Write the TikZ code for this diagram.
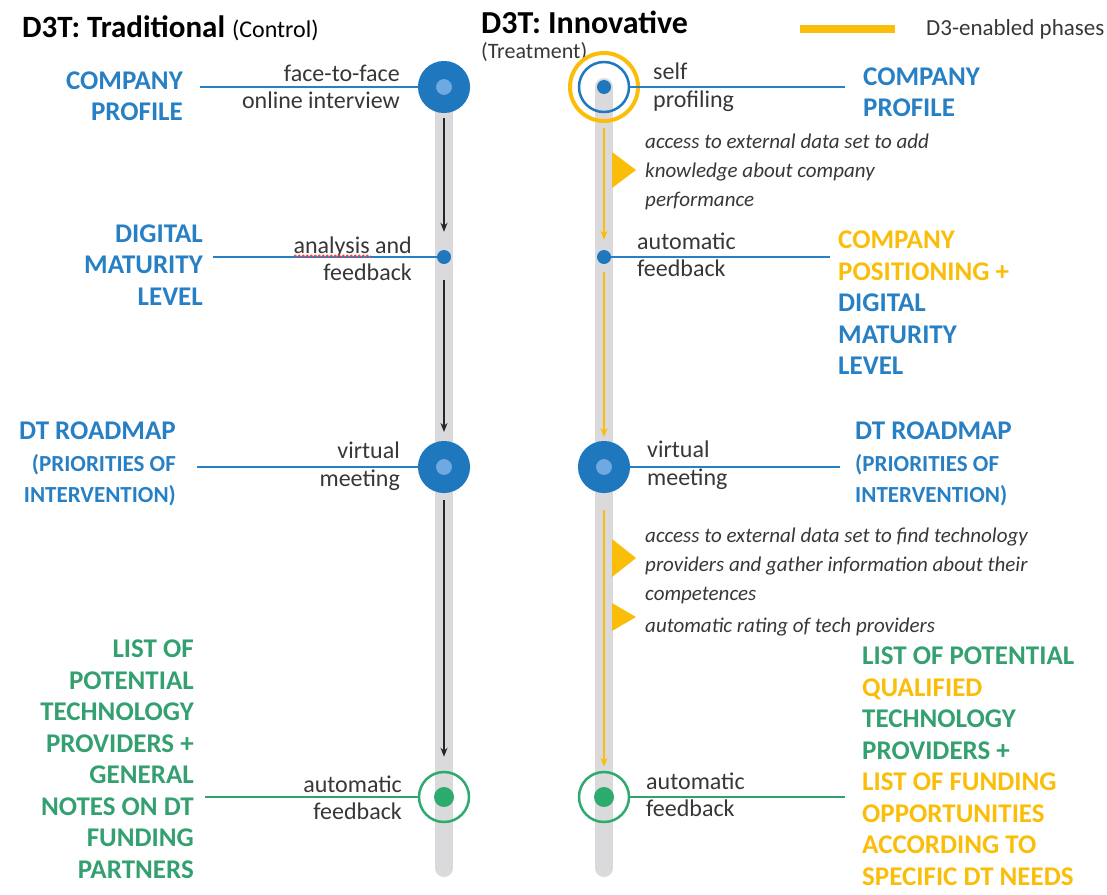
\documentclass[tikz,border=0pt]{standalone}
\usepackage{fontspec}
\setmainfont{Carlito}
\usetikzlibrary{arrows.meta,decorations.pathmorphing}
\definecolor{dblue}{RGB}{31,119,190}
\definecolor{lblue}{RGB}{110,170,225}
\definecolor{tblue}{RGB}{40,128,196}
\definecolor{dorange}{RGB}{250,190,10}
\definecolor{dgreen}{RGB}{45,170,110}
\definecolor{tgreen}{RGB}{52,160,112}
\definecolor{txt}{RGB}{55,55,55}
\definecolor{trk}{RGB}{218,218,220}
\newcommand{\priofont}{\fontsize{23}{30}\selectfont}
\begin{document}
\begin{tikzpicture}[x=1pt,y=-1pt,
  track/.style={trk,line width=18pt,line cap=round},
  bigdot/.style={circle,draw=dblue,fill=lblue,line width=18pt,minimum size=34pt,inner sep=0pt},
  smalldot/.style={circle,fill=dblue,minimum size=14pt,inner sep=0pt},
  ringdot/.style={circle,draw=#1,line width=2.5pt,minimum size=50pt,inner sep=0pt},
  lab/.style={font=\bfseries\fontsize{27}{31.5}\selectfont,inner sep=0pt},
  note/.style={font=\fontsize{24}{27.5}\selectfont,text=txt,inner sep=0pt},
  ital/.style={font=\itshape\fontsize{21}{29}\selectfont,text=txt,inner sep=0pt,align=left,anchor=west},
  bline/.style={tblue,line width=2pt},
  gline/.style={tgreen,line width=2pt},
  flow/.style={black!85,line width=2pt,-{Stealth[length=9pt,width=7pt]}},
  oflow/.style={dorange,line width=2.5pt,-{Stealth[length=9pt,width=7pt]}}]
\useasboundingbox (0,0) rectangle (1107,894);

\node[anchor=west,inner sep=0pt] (ttl) at (22,28) {\fontsize{31}{36}\selectfont\bfseries D3T: Traditional {\mdseries\fontsize{24}{28}\selectfont (Control)}};
\node[anchor=west,inner sep=0pt,font=\bfseries\fontsize{32}{36}\selectfont] (tti) at (481,22) {D3T: Innovative};
\node[anchor=west,inner sep=0pt,font=\fontsize{22}{26}\selectfont,text=txt] (ttr) at (481,52) {(Treatment)};
\coordinate (lg1) at (800,29);
\coordinate (lg2) at (895,29);
\draw[dorange,line width=8pt] (lg1) -- (lg2);
\node[note,anchor=west,font=\fontsize{23}{27}\selectfont] (lgt) at (926,29) {D3-enabled phases};

\coordinate (ltop) at (444,87);
\coordinate (lend) at (444,868);
\coordinate (rtop) at (604,87);
\coordinate (rend) at (604,868);
\draw[track] (ltop) -- (lend);
\draw[track] (rtop) -- (rend);

\coordinate (a1) at (200,87);
\coordinate (a2) at (213,257);
\coordinate (a3) at (197,467);
\coordinate (a4) at (205,797);
\coordinate (b1) at (845,87);
\coordinate (b2) at (830,257);
\coordinate (b3) at (840,467);
\coordinate (b4) at (845,797);

\node[bigdot] (l1) at (444,87) {};
\node[smalldot] (l2) at (444,257) {};
\node[bigdot] (l3) at (444,467) {};
\node[ringdot=dgreen] (l4) at (444,797) {};
\fill[dgreen] (l4) circle (10);

\node[ringdot=dblue] (r1) at (604,87) {};
\draw[dorange,line width=4pt] (r1) circle (34);
\fill[dblue] (r1) circle (7);
\node[smalldot] (r2) at (604,257) {};
\node[bigdot] (r3) at (604,467) {};
\node[ringdot=dgreen] (r4) at (604,797) {};
\fill[dgreen] (r4) circle (10);

\draw[bline] (a1) -- (l1);
\draw[bline] (a2) -- (l2);
\draw[bline] (a3) -- (l3);
\draw[gline] (a4) -- (l4);
\draw[bline] (r1) -- (b1);
\draw[bline] (r2) -- (b2);
\draw[bline] (r3) -- (b3);
\draw[gline] (r4) -- (b4);

\draw[flow,shorten <=5pt,shorten >=18pt] (l1) -- (l2);
\draw[flow,shorten <=16pt,shorten >=9pt] (l2) -- (l3);
\draw[flow,shorten <=7pt,shorten >=14pt] (l3) -- (l4);
\draw[oflow,shorten <=15pt,shorten >=10pt] (r1) -- (r2);
\draw[oflow,shorten <=8pt,shorten >=4pt] (r2) -- (r3);
\draw[oflow,shorten <=17pt,shorten >=4pt] (r3) -- (r4);
\foreach \y/\h in {170/18,558/19,617/14}
  \fill[dorange] (612,{\y-\h}) -- (636,\y) -- (612,{\y+\h}) -- cycle;

\node[lab,text=tblue,anchor=east,align=right] (cpL) at (183,96) {COMPANY\\PROFILE};
\node[lab,text=tblue,anchor=east,align=right] (dmL) at (203,265) {DIGITAL\\MATURITY\\LEVEL};
\node[lab,text=tblue,anchor=east,align=right] (rmL) at (176,464) {DT ROADMAP\\{\priofont (PRIORITIES OF}\\{\priofont INTERVENTION)}};
\node[lab,text=tgreen,anchor=east,align=right] (plL) at (194,759) {LIST OF\\POTENTIAL\\TECHNOLOGY\\PROVIDERS +\\GENERAL\\NOTES ON DT\\FUNDING\\PARTNERS};

\node[lab,text=tblue,anchor=west,align=left] (cpR) at (863,92) {COMPANY\\PROFILE};
\node[lab,text=tblue,anchor=west,align=left] (posR) at (838,303) {\textcolor{dorange}{COMPANY}\\\textcolor{dorange}{POSITIONING +}\\DIGITAL\\MATURITY\\LEVEL};
\node[lab,text=tblue,anchor=west,align=left] (rmR) at (855,464) {DT ROADMAP\\{\priofont (PRIORITIES OF}\\{\priofont INTERVENTION)}};
\node[lab,text=tgreen,anchor=west,align=left] (plR) at (862,766) {LIST OF POTENTIAL\\\textcolor{dorange}{QUALIFIED}\\TECHNOLOGY\\PROVIDERS +\\\textcolor{dorange}{LIST OF FUNDING}\\\textcolor{dorange}{OPPORTUNITIES}\\\textcolor{dorange}{ACCORDING TO}\\\textcolor{dorange}{SPECIFIC DT NEEDS}};

\node[note,anchor=east,align=right] (ftf) at (400,87) {face-to-face\\online interview};
\node[note,anchor=east,align=right] (anf) at (412,259) {analysis and\\feedback};
\coordinate (sq1) at (294,256);
\coordinate (sq2) at (371,256);
\draw[red!75,line width=0.8pt,decorate,decoration={snake,amplitude=1pt,segment length=4pt}] (sq1) -- (sq2);
\node[note,anchor=east,align=right] (vmL) at (400,466) {virtual\\meeting};
\node[note,anchor=east,align=right] (afL) at (402,798) {automatic\\feedback};
\node[note,anchor=west,align=left] (spR) at (653,87) {self\\profiling};
\node[note,anchor=west,align=left] (afR1) at (637,255) {automatic\\feedback};
\node[note,anchor=west,align=left] (vmR) at (647,465) {virtual\\meeting};
\node[note,anchor=west,align=left] (afR2) at (646,795) {automatic\\feedback};

\node[ital] (it1) at (645,172) {access to external data set to add\\knowledge about company\\performance};
\node[ital] (it2) at (645,566) {access to external data set to find technology\\providers and gather information about their\\competences};
\node[ital] (it3) at (645,627) {automatic rating of tech providers};
\end{tikzpicture}
\end{document}
